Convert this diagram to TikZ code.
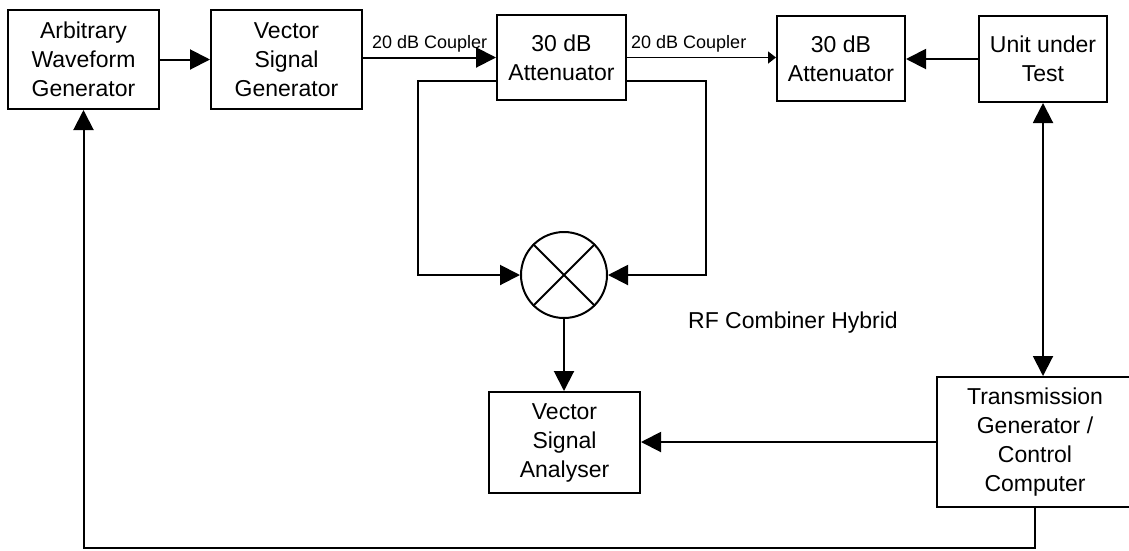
\documentclass[tikz,border=0pt]{standalone}
\usepackage{fontspec}
\setmainfont{Liberation Sans}
\usetikzlibrary{arrows.meta,positioning,calc}

\begin{document}
\begin{tikzpicture}[x=1pt,y=-1pt,
        block/.style={draw, line width=2pt, inner sep=0pt, align=center, font=\fontsize{23}{29}\selectfont},
        link/.style={line width=2pt, -{Triangle[length=20pt,width=20pt]}},
        thinlink/.style={line width=1.5pt, -{Triangle[length=8pt,width=12pt]}},
        tag/.style={anchor=base west, inner sep=0pt, font=\fontsize{18}{22}\selectfont}]
        \useasboundingbox (0,0) rectangle (1129,550);

        % Top row
        \node[block, minimum width=151pt, minimum height=99pt] (awg) at (83.5,59.5) {Arbitrary\\Waveform\\Generator};
        \node[block, minimum width=151pt, minimum height=99pt] (vsg) at (286.5,59.5) {Vector\\Signal\\Generator};
        \node[block, minimum width=129pt, minimum height=85pt] (att1) at (561.5,57.5) {30 dB\\Attenuator};
        \node[block, minimum width=128pt, minimum height=85pt] (att2) at (841,58.5) {30 dB\\Attenuator};
        \node[block, minimum width=128pt, minimum height=86pt] (uut) at (1043,59) {Unit under\\Test};

        % Bottom row
        \node[block, minimum width=151pt, minimum height=101pt] (vsa) at (564.5,442.5) {Vector\\Signal\\Analyser};
        \node[block, minimum width=196pt, minimum height=130pt] (tg) at (1035,442) {Transmission\\Generator /\\Control\\Computer};

        % Combiner
        \node[draw, circle, line width=2pt, minimum size=86pt, inner sep=0pt] (mix) at (564,275) {};
        \draw[line width=2pt] (mix.north west) -- (mix.south east) (mix.north east) -- (mix.south west);
        \node[tag, font=\fontsize{23}{29}\selectfont] (rf) at (688,328) {RF Combiner Hybrid};

        % Coupler labels
        \node[tag] (cpl1) at (372,48) {20 dB Coupler};
        \node[tag] (cpl2) at (631,48) {20 dB Coupler};

        % Signal path
        \draw[link] (awg) -- (vsg);
        \draw[link] (vsg.east |- att1.west) -- (att1.west);
        \draw[thinlink] (att1.east) -- (att1.east -| att2.west);
        \draw[link] (uut.west) -- (uut.west -| att2.east);

        % Feedback to combiner
        \coordinate (fbl) at (418,81);
        \coordinate (fbr) at (706,81);
        \draw[link] (att1.west |- fbl) -- (fbl) |- (mix.west);
        \draw[link] (att1.east |- fbr) -- (fbr) |- (mix.east);
        \draw[link] (mix.south) -- (mix.south |- vsa.north);

        % Control
        \draw[line width=2pt, {Triangle[length=20pt,width=20pt]}-{Triangle[length=20pt,width=20pt]}] (uut.south) -- (uut.south |- tg.north);
        \draw[link] (tg.west) -- (tg.west -| vsa.east);
        \coordinate (low) at (0,548);
        \draw[link] (tg.south) -- (tg.south |- low) -| (awg.south);
\end{tikzpicture}
\end{document}
